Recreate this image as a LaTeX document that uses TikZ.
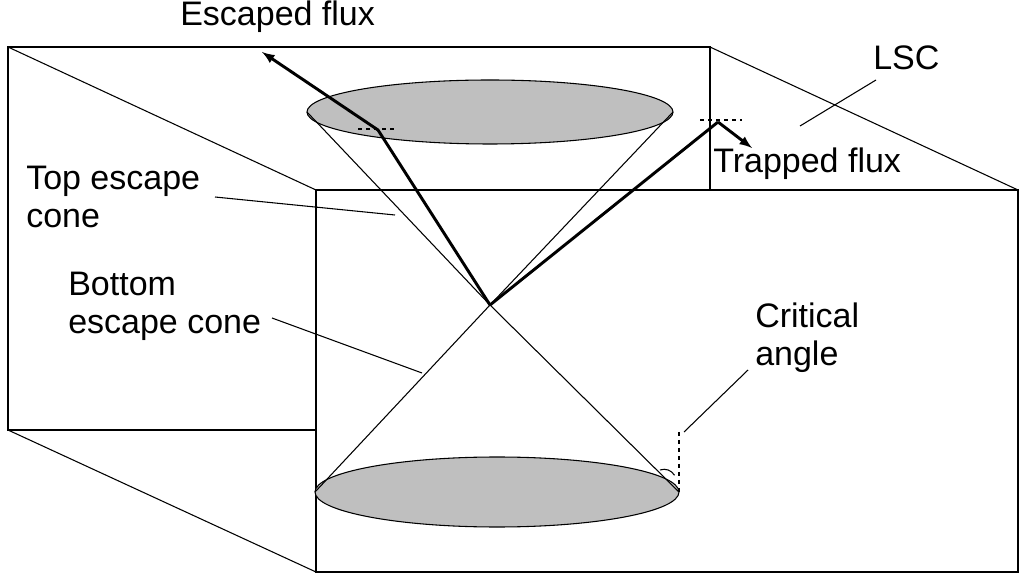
\documentclass[tikz,border=0pt]{standalone}
\usepackage{fontspec}
\setmainfont{Liberation Sans}
\begin{document}
\begin{tikzpicture}[x=0.75pt,y=-0.75pt,
  edge/.style={line width=0.8pt},
  flux/.style={line width=2.2pt},
  tip/.style={-{latex[scale=1.4]}},
  lbl/.style={font=\fontsize{25.5}{28.5}\selectfont,align=left,inner sep=0pt}]
	\useasboundingbox (0,0) rectangle (1024,580);
	% box corners
	\coordinate (BTL) at (8,47);
	\coordinate (BTR) at (710,47);
	\coordinate (BBL) at (8,430);
	\coordinate (BBR) at (710,430);
	\coordinate (FTL) at (316,190);
	\coordinate (FTR) at (1018,190);
	\coordinate (FBL) at (316,572);
	\coordinate (FBR) at (1018,572);
	\draw [edge] (BTL) rectangle (BBR);
	\draw [edge] (BTL) -- (FTL);
	\draw [edge] (BTR) -- (FTR);
	\draw [edge] (BBL) -- (FBL);
	\draw [edge] (BBR) -- (FBR);
	\fill [white] (FTL) rectangle (FBR);
	\draw [edge] (FTL) rectangle (FBR);
	% cones
	\coordinate (O) at (490,305);
	\draw [edge,fill=gray!50] (490,112) ellipse (183 and 32);
	\draw [edge,fill=gray!50] (497,492) ellipse (182 and 35);
	\coordinate (TL) at (307,112);
	\coordinate (TR) at (673,112);
	\coordinate (BL) at (315,492);
	\coordinate (BR) at (679,492);
	\draw [edge] (TL) -- (O) -- (BR);
	\draw [edge] (TR) -- (O) -- (BL);
	% fluxes
	\coordinate (E1) at (378,130);
	\coordinate (E2) at (262,52);
	\coordinate (T1) at (718,122);
	\coordinate (T2) at (752,148);
	\draw [flux,tip] (O) -- (E1) -- (E2);
	\draw [flux] (O) -- (T1);
	\draw [flux,tip] (T1) -- (T2);
	\draw [edge,dashed] (358,129) -- (396,129);
	\draw [edge,dashed] (700,120) -- (742,120);
	\draw [edge,dashed] (679,432) -- (BR);
	\draw [edge] (660,470) arc (250:330:12);
	% labels
	\node [lbl,anchor=west] (esc) at (180,17) {Escaped flux};
	\node [lbl,anchor=west] (lsc) at (873,58) {LSC};
	\node [lbl,anchor=west] (trap) at (713,164) {Trapped flux};
	\node [lbl,anchor=west] (top) at (26,197) {Top escape\\cone};
	\node [lbl,anchor=west] (bot) at (68,306) {Bottom\\escape cone};
	\node [lbl,anchor=west] (crit) at (755,338) {Critical\\angle};
	\coordinate (lscP) at (800,126);
	\coordinate (topP) at (395,215);
	\coordinate (botP) at (422,373);
	\coordinate (critP) at (684,432);
	\draw [edge] (876,80) -- (lscP);
	\draw [edge] (215,197) -- (topP);
	\draw [edge] (272,318) -- (botP);
	\draw [edge] (748,370) -- (critP);
\end{tikzpicture}
\end{document}
